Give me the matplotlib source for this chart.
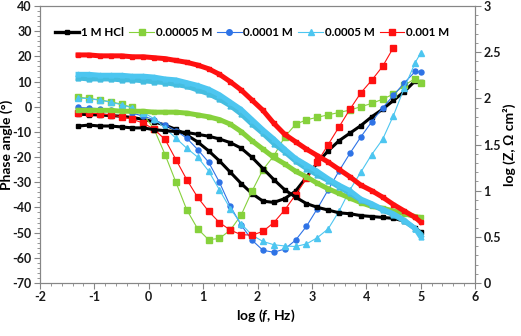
import matplotlib
matplotlib.use("Agg")
import matplotlib.pyplot as plt
from matplotlib.lines import Line2D
from matplotlib.ticker import MultipleLocator

plt.rcParams['font.family'] = ['Lato', 'DejaVu Sans']
plt.rcParams['font.weight'] = 'bold'
plt.rcParams['axes.unicode_minus'] = False
plt.rcParams['mathtext.fontset'] = 'custom'
plt.rcParams['mathtext.rm'] = 'Lato:bold'
plt.rcParams['mathtext.it'] = 'Lato:italic:bold'

# ---------- data ----------
log_f = [-1.3, -1.1, -0.9, -0.7, -0.5, -0.3, -0.1, 0.1, 0.3, 0.5, 0.7, 0.9, 1.1,
         1.3, 1.5, 1.7, 1.9, 2.1, 2.3, 2.5, 2.7, 2.9, 3.1, 3.3, 3.5, 3.7, 3.9,
         4.1, 4.3, 4.5, 4.7, 4.9, 5.0]

labels = ['1 M HCl', '0.00005 M', '0.0001 M', '0.0005 M', '0.001 M']

# phase angle (deg)
hcl_phase = [-3.0, -3.1, -3.3, -3.5, -3.8, -4.3, -5.0, -6.0, -7.3, -9.0, -11.2, -14.0,
             -17.5, -21.5, -26.0, -30.5, -34.5, -37.5, -38.0, -36.5, -33.5, -28.0, -22.3,
             -17.5, -13.5, -10.5, -7.5, -4.0, -1.0, 2.5, 6.0, 10.3, 9.8]
g_phase = [3.8, 3.3, 2.7, 2.0, 1.0, -0.3, -3.0, -9.0, -19.0, -30.0, -41.0, -48.5, -52.8,
           -52.3, -49.0, -43.0, -33.5, -25.0, -19.5, -12.0, -7.0, -5.2, -4.2, -3.2, -2.3,
           -1.3, 0.0, 1.3, 3.0, 5.0, 8.5, 11.2, 9.5]
b_phase = [-0.3, -0.5, -0.8, -1.2, -1.8, -2.6, -3.7, -5.2, -7.2, -9.5, -12.5, -17.0, -22.0,
           -30.0, -39.5, -47.0, -53.0, -57.0, -57.8, -56.5, -53.0, -47.5, -40.5, -33.0,
           -25.5, -18.5, -12.0, -6.0, -0.5, 4.5, 9.5, 14.0, 13.8]
c_phase = [3.5, 3.2, 2.6, 1.8, 0.8, -0.5, -2.3, -4.8, -8.5, -12.5, -16.5, -20.0, -25.5,
           -33.0, -40.5, -46.5, -51.0, -53.5, -54.8, -55.3, -55.5, -54.5, -52.0, -48.5,
           -41.5, -33.0, -26.0, -19.0, -13.0, -3.5, 7.5, 17.5, 21.3]
r_phase = [-2.3, -2.5, -2.8, -3.3, -4.0, -5.0, -6.5, -9.0, -13.0, -21.0, -29.0, -36.0,
           -41.5, -46.0, -49.0, -50.8, -51.0, -49.5, -46.0, -41.0, -35.0, -28.5, -22.0,
           -15.0, -8.0, -1.0, 5.5, 10.5, 16.0, 23.5]

# log |Z| (ohm cm2)
hcl_logz = [1.70, 1.71, 1.70, 1.70, 1.69, 1.68, 1.68, 1.66, 1.65, 1.64, 1.63, 1.61, 1.59,
            1.56, 1.52, 1.46, 1.36, 1.24, 1.12, 1.01, 0.93, 0.86, 0.82, 0.79, 0.76, 0.75,
            0.73, 0.72, 0.71, 0.70, 0.67, 0.60, 0.55]
g_logz = [1.87, 1.87, 1.87, 1.87, 1.86, 1.86, 1.86, 1.85, 1.85, 1.85, 1.84, 1.82, 1.80,
          1.77, 1.72, 1.64, 1.54, 1.45, 1.36, 1.29, 1.21, 1.15, 1.08, 1.02, 0.97, 0.92,
          0.87, 0.83, 0.81, 0.78, 0.75, 0.72, 0.71]
b_logz = [2.22, 2.21, 2.21, 2.21, 2.20, 2.20, 2.19, 2.18, 2.17, 2.15, 2.13, 2.09, 2.05,
          1.99, 1.92, 1.83, 1.72, 1.62, 1.51, 1.42, 1.32, 1.24, 1.17, 1.11, 1.04, 0.97,
          0.90, 0.85, 0.79, 0.74, 0.67, 0.59, 0.53]
c_logz = [2.26, 2.26, 2.25, 2.25, 2.25, 2.24, 2.24, 2.23, 2.21, 2.20, 2.17, 2.14, 2.10,
          2.04, 1.96, 1.88, 1.77, 1.66, 1.56, 1.45, 1.35, 1.28, 1.21, 1.13, 1.06, 1.00,
          0.91, 0.86, 0.80, 0.75, 0.68, 0.59, 0.50]
r_logz = [2.47, 2.47, 2.46, 2.46, 2.46, 2.45, 2.45, 2.44, 2.43, 2.41, 2.39, 2.36, 2.32,
          2.26, 2.18, 2.09, 1.98, 1.87, 1.73, 1.61, 1.53, 1.45, 1.38, 1.31, 1.23, 1.15,
          1.06, 1.00, 0.93, 0.85, 0.78, 0.71, 0.66]

left_ticks = [-70, -60, -50, -40, -30, -20, -10, 0, 10, 20, 30, 40]
right_ticks = [0, 0.5, 1, 1.5, 2, 2.5, 3]
right_ticklabels = ['0', '0.5', '1', '1.5', '2', '2.5', '3']
x_ticks = [-2, -1, 0, 1, 2, 3, 4, 5, 6]

# ---------- styles ----------
BLACK = '#000000'
GREEN = '#86d13c'
BLUE = '#2e73e6'
CYAN = '#4dc6f0'
TEAL = '#45bde0'
RED = '#ff1010'
AXC = '#868686'

fig = plt.figure(figsize=(5.21, 3.36), dpi=100)
ax = fig.add_axes([40 / 521, 1 - 283 / 336, 435 / 521, 277 / 336])
ax2 = ax.twinx()

# impedance (thick, dense markers)
ax2.plot(log_f, hcl_logz, color=BLACK, lw=2.2, marker='s', ms=2.5, zorder=3)
ax2.plot(log_f, g_logz, color=GREEN, lw=3.6, marker='s', ms=3.5, zorder=3)
ax2.plot(log_f, b_logz, color=TEAL, lw=3.6, marker='^', ms=3.5, zorder=3)
ax2.plot(log_f, c_logz, color=CYAN, lw=3.6, marker='^', ms=3.5, zorder=3)
ax2.plot(log_f, r_logz, color=RED, lw=3.6, marker='s', ms=3.5, zorder=3)

# phase angle (thin line + markers)
ax.plot(log_f, hcl_phase, color=BLACK, lw=2.2, marker='s', ms=2.5)
ax.plot(log_f, g_phase, color=GREEN, lw=0.8, marker='s', ms=4)
ax.plot(log_f, b_phase, color=BLUE, lw=0.8, marker='o', ms=3.6)
ax.plot(log_f, c_phase, color=CYAN, lw=0.8, marker='^', ms=4)
ax.plot(log_f[:len(r_phase)], r_phase, color=RED, lw=0.8, marker='s', ms=4)

# axes
ax.set_xlim(-2, 6)
ax.set_ylim(-70, 40)
ax2.set_ylim(0, 3)
ax.set_xticks(x_ticks)
ax.set_yticks(left_ticks)
ax2.set_yticks(right_ticks)
ax2.set_yticklabels(right_ticklabels)
ax.xaxis.set_minor_locator(MultipleLocator(0.2))
ax.yaxis.set_minor_locator(MultipleLocator(2))
ax2.yaxis.set_minor_locator(MultipleLocator(0.1))

for a in (ax, ax2):
    for s in a.spines.values():
        s.set_color(AXC)
        s.set_linewidth(0.8)
    a.tick_params(which='major', direction='out', length=4, width=0.8, color=AXC,
                  labelsize=9, labelcolor='#1a1a1a', pad=2)
    a.tick_params(which='minor', direction='out', length=2.5, width=0.6, color=AXC)

ax.set_xlabel(r'log ($\mathit{f}$, Hz)', fontsize=10, fontweight='bold')
ax.xaxis.set_label_coords(0.52, -0.088)
ax.set_ylabel('Phase angle (°)', fontsize=10, fontweight='bold')
ax.yaxis.set_label_coords(-0.062, 0.5)
ax2.set_ylabel('log (Z, Ω cm²)', fontsize=10, fontweight='bold')
ax2.yaxis.set_label_coords(1.064, 0.5)

handles = [
    Line2D([], [], color=BLACK, lw=2.4, marker='s', ms=3),
    Line2D([], [], color=GREEN, lw=0.8, marker='s', ms=4),
    Line2D([], [], color=BLUE, lw=0.8, marker='o', ms=4),
    Line2D([], [], color=CYAN, lw=0.8, marker='^', ms=4),
    Line2D([], [], color=RED, lw=0.8, marker='s', ms=4),
]
ax.legend(handles, labels, loc='center left', bbox_to_anchor=(0.034, 0.903), ncol=5,
          frameon=False, fontsize=8.4, handlelength=2.1, handletextpad=0.15,
          columnspacing=0.45, borderpad=0, borderaxespad=0)

fig.savefig('out.png', dpi=100)
